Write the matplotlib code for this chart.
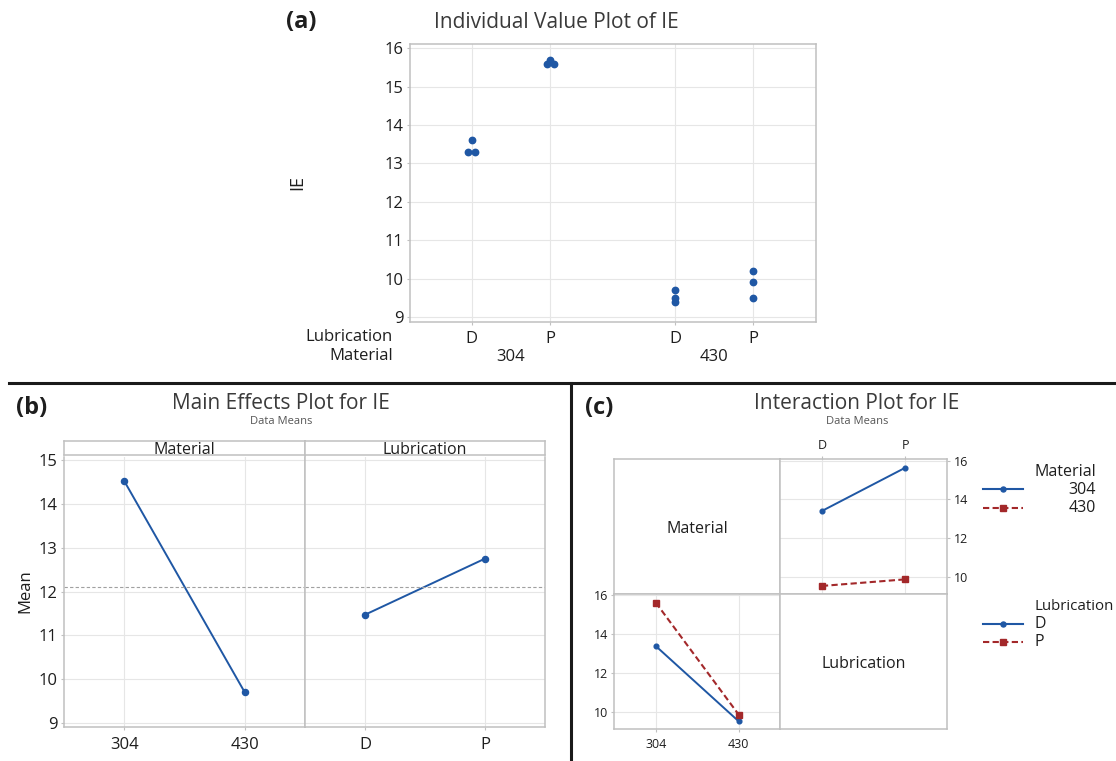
import matplotlib
matplotlib.use("Agg")
import matplotlib.pyplot as plt
from matplotlib.lines import Line2D
import numpy as np

# individual values of IE (panel a)
lubrication = ["D", "P"]
material = ["304", "430"]
ie_304_D = [13.6, 13.3, 13.3]
ie_304_P = [15.7, 15.6, 15.6]
ie_430_D = [9.7, 9.5, 9.4]
ie_430_P = [10.2, 9.9, 9.5]

# main effects (panel b)
mean_material = [14.52, 9.70]
mean_lubrication = [11.47, 12.75]
grand_mean = 12.1

# interaction means (panel c), order D, P
inter_304 = [13.40, 15.63]
inter_430 = [9.53, 9.87]

BLUE = "#1f57a4"
RED = "#a3282a"
GRID = "#e6e6e6"
SPINE = "#c0c0c0"
TXT = "#1e1e1e"
FONT = "Open Sans"

plt.rcParams["font.family"] = [FONT, "DejaVu Sans"]
plt.rcParams["text.color"] = TXT
plt.rcParams["axes.labelcolor"] = TXT
plt.rcParams["xtick.color"] = SPINE
plt.rcParams["ytick.color"] = SPINE
plt.rcParams["xtick.labelcolor"] = TXT
plt.rcParams["ytick.labelcolor"] = TXT

W, H = 1116, 761
fig = plt.figure(figsize=(W / 100, H / 100), dpi=100)


def px_axes(l, t, r, b):
    return fig.add_axes([l / W, 1 - b / H, (r - l) / W, (b - t) / H])


def ftext(x, y, s, **kw):
    kw.setdefault("va", "center")
    kw.setdefault("ha", "center")
    return fig.text(x / W, 1 - y / H, s, **kw)


def style(ax, fs=11.5):
    for sp in ax.spines.values():
        sp.set_color(SPINE)
        sp.set_linewidth(1.1)
    ax.grid(True, color=GRID, lw=0.8)
    ax.set_axisbelow(True)
    ax.tick_params(length=2.5, width=0.8, pad=2, labelsize=fs)


# ---------------- (a) individual value plot ----------------
ax = px_axes(410, 44, 816, 322)
style(ax, fs=12)
xpos = [1, 2, 3.6, 4.6]
groups = [ie_304_D, ie_304_P, ie_430_D, ie_430_P]
dodge = [[0, -1, 1], [0, -1, 1], [0, 0, 0], [0, 0, 0]]
for x, vals, dg in zip(xpos, groups, dodge):
    ax.plot(x + np.array(dg) * 0.045, vals, "o", ms=4.6, color=BLUE, mec=BLUE)
ax.set_xlim(0.21, 5.40)
ax.set_ylim(8.87, 16.11)
ax.set_yticks(range(9, 17))
ax.set_xticks(xpos)
ax.set_xticklabels(lubrication * 2)
ax.tick_params(axis="x", pad=4)
for i, m in enumerate(material):
    ax.text((xpos[2 * i] + xpos[2 * i + 1]) / 2, -0.125, m, transform=ax.get_xaxis_transform(),
            ha="center", va="center", fontsize=12)
ax.set_ylabel("IE", fontsize=13)
ax.yaxis.set_label_coords(-0.256, 0.5)
ftext(393, 337, "Lubrication", ha="right", fontsize=12)
ftext(393, 356, "Material", ha="right", fontsize=12)
ftext(556, 22, "Individual Value Plot of IE", fontsize=15, color="#3a3a3a")
ftext(301, 22, "(a)", fontsize=17, fontweight="bold", color="#1e1e1e")

# ---------------- (b) main effects plot ----------------
bl = px_axes(64, 456.5, 305, 726.5)
br = px_axes(305, 456.5, 545, 726.5)
for a, vals, labs in [(bl, mean_material, material), (br, mean_lubrication, lubrication)]:
    style(a, fs=12)
    a.plot([1, 2], vals, "-o", color=BLUE, lw=1.4, ms=4.4)
    a.axhline(grand_mean, color="#a0a0a0", lw=0.8, ls=(0, (3, 2)))
    a.set_xlim(0.5, 2.5)
    a.set_ylim(8.92, 15.08)
    a.set_yticks(range(9, 16))
    a.set_xticks([1, 2])
    a.set_xticklabels(labs)
    a.tick_params(axis="x", pad=5)
    a.spines["top"].set_visible(False)
br.tick_params(axis="y", left=False, labelleft=False)
bl.set_ylabel("Mean", fontsize=12)
bl.yaxis.set_label_coords(-0.129, 0.5)

for (l, r), lab in zip([(64, 305), (305, 545)], ["Material", "Lubrication"]):
    s = px_axes(l, 441, r, 455)
    s.set_xticks([])
    s.set_yticks([])
    for sp in s.spines.values():
        sp.set_color(SPINE)
        sp.set_linewidth(1.1)
    s.text(0.5, 0.35, lab, transform=s.transAxes, ha="center", va="center", fontsize=11.5)

ftext(281, 404, "Main Effects Plot for IE", fontsize=15, color="#3a3a3a")
ftext(281, 421, "Data Means", fontsize=8, color="#555555")
ftext(32, 408, "(b)", fontsize=17, fontweight="bold", color="#1e1e1e")

# ---------------- (c) interaction plot ----------------
ul = px_axes(614.3, 458.7, 780.3, 593.5)
ur = px_axes(780.3, 458.7, 946.7, 593.5)
ll = px_axes(614.3, 593.5, 780.3, 729)
lr = px_axes(780.3, 593.5, 946.7, 729)

for a, lab in [(ul, "Material"), (lr, "Lubrication")]:
    a.set_xticks([])
    a.set_yticks([])
    for sp in a.spines.values():
        sp.set_color(SPINE)
        sp.set_linewidth(1.1)
    a.text(0.5, 0.48, lab, transform=a.transAxes, ha="center", va="center", fontsize=11.5)

for a in (ur, ll):
    style(a, fs=9)
    a.set_xlim(0.5, 2.5)
    a.set_ylim(9.14, 16.1)
    a.set_yticks([10, 12, 14, 16])
    a.set_xticks([1, 2])

ur.plot([1, 2], inter_304, "-o", color=BLUE, lw=1.4, ms=3.4)
ur.plot([1, 2], inter_430, "--s", color=RED, lw=1.5, ms=3.8, dashes=(3, 1.6))
ur.set_xticklabels(lubrication)
ur.tick_params(axis="x", top=True, bottom=False, labeltop=True, labelbottom=False, pad=2)
ur.tick_params(axis="y", right=True, left=False, labelright=True, labelleft=False, pad=3)

ll.plot([1, 2], [inter_304[0], inter_430[0]], "-o", color=BLUE, lw=1.4, ms=3.4)
ll.plot([1, 2], [inter_304[1], inter_430[1]], "--s", color=RED, lw=1.5, ms=3.8, dashes=(3, 1.6))
ll.set_xticklabels(material)
ll.tick_params(axis="x", pad=4)


# legends
def key(y, color, ls, marker, ms):
    fig.add_artist(Line2D([983 / W, 1003 / W, 1023 / W], [1 - y / H] * 3, color=color, ls=ls,
                          lw=1.5, marker=marker, ms=ms, markevery=[1],
                          dashes=(3, 1.6) if ls == "--" else (None, None),
                          transform=fig.transFigure))


ftext(1035, 472, "Material", ha="left", fontsize=11.5)
key(489.3, BLUE, "-", "o", 3.6)
key(507.7, RED, "--", "s", 3.8)
ftext(1096, 490, material[0], ha="right", fontsize=11.5)
ftext(1096, 508, material[1], ha="right", fontsize=11.5)

ftext(1034, 607, "Lubrication", ha="left", fontsize=10.8)
key(623.7, BLUE, "-", "o", 3.6)
key(642, RED, "--", "s", 3.8)
ftext(1034, 624, lubrication[0], ha="left", fontsize=11.5)
ftext(1034, 642, lubrication[1], ha="left", fontsize=11.5)

ftext(857, 404, "Interaction Plot for IE", fontsize=15, color="#3a3a3a")
ftext(857, 421, "Data Means", fontsize=8, color="#555555")
ftext(599, 408, "(c)", fontsize=17, fontweight="bold", color="#1e1e1e")

# separators
fig.add_artist(Line2D([9 / W, 1], [1 - 382.5 / H] * 2, color="#1a1a1a", lw=2.2, transform=fig.transFigure))
fig.add_artist(Line2D([571 / W] * 2, [0, 1 - 382.5 / H], color="#1a1a1a", lw=2.2, transform=fig.transFigure))

fig.savefig("out.png", dpi=100)
